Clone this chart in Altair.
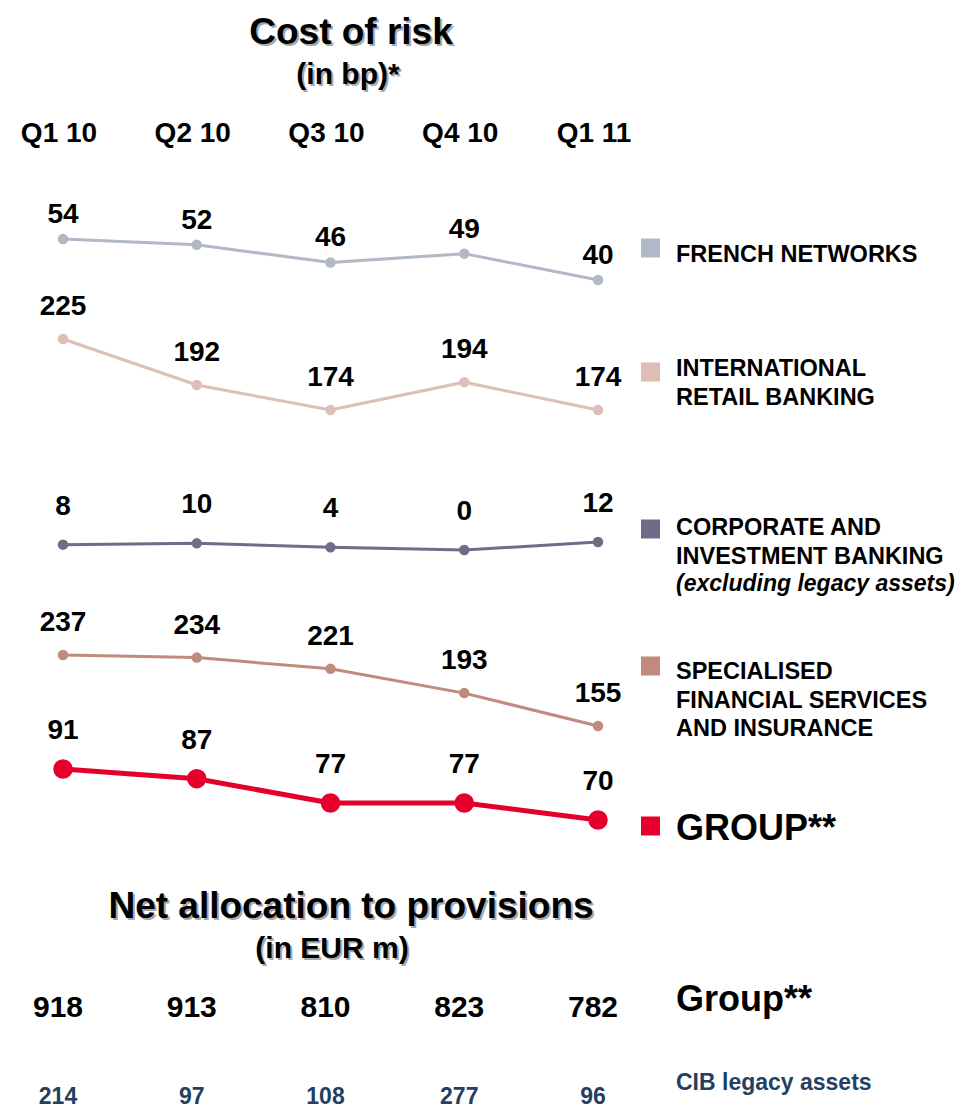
import altair as alt
import pandas as pd

# ---------------- data ----------------
quarters = ["Q1 10", "Q2 10", "Q3 10", "Q4 10", "Q1 11"]
french_networks = [54, 52, 46, 49, 40]
intl_retail = [225, 192, 174, 194, 174]
cib_ex_legacy = [8, 10, 4, 0, 12]
sfs_insurance = [237, 234, 221, 193, 155]
group_cor = [91, 87, 77, 77, 70]
nap_group = [918, 913, 810, 823, 782]
nap_cib_legacy = [214, 97, 108, 277, 96]

legend_labels = [
    "FRENCH NETWORKS",
    "INTERNATIONAL\nRETAIL BANKING",
    "CORPORATE AND\nINVESTMENT BANKING",
    "SPECIALISED\nFINANCIAL SERVICES\nAND INSURANCE",
    "GROUP**",
]

FONT = "Liberation Sans"
NAVY = "#243F5F"
W, H = 953, 1102

xscale = alt.Scale(type="point", domain=quarters, range=[55, 590], padding=0)
xenc = alt.X("quarter:N", scale=xscale, axis=None)


def frame(values):
    return pd.DataFrame({"quarter": quarters, "value": values, "idx": list(range(len(values)))})


def series(values, color, rng, stroke, size, dy):
    df = frame(values)
    y = alt.Y("value:Q", axis=None,
              scale=alt.Scale(domain=[min(values), max(values)], range=rng, zero=False, nice=False))
    base = alt.Chart(df)
    line = base.mark_line(color=color, strokeWidth=stroke).encode(x=xenc, y=y, order=alt.Order("idx:Q"))
    pts = base.mark_circle(color=color, size=size, opacity=1).encode(x=xenc, y=y)
    lbl = base.mark_text(dy=dy, baseline="alphabetic", font=FONT, fontSize=28,
                         fontWeight="bold", color="black").encode(x=xenc, y=y, text="value:Q")
    return alt.layer(line, pts, lbl)


one = pd.DataFrame({"k": [0]})


def label(txt, x, y, size, color="black", align="left", style="normal", shadow=False):
    layers = []
    if shadow:
        layers.append(alt.Chart(one).mark_text(
            text=txt, align=align, baseline="alphabetic", font=FONT, fontSize=size,
            fontWeight="bold", color="#a8a8a8", dx=2, dy=2, lineBreak="\n", lineHeight=28.5
        ).encode(x=alt.value(x), y=alt.value(y)))
    layers.append(alt.Chart(one).mark_text(
        text=txt, align=align, baseline="alphabetic", font=FONT, fontSize=size,
        fontWeight="bold", fontStyle=style, color=color, lineBreak="\n", lineHeight=28.5
    ).encode(x=alt.value(x), y=alt.value(y)))
    return alt.layer(*layers)


def square(color, y):
    return alt.Chart(one).mark_square(color=color, size=361, opacity=1).encode(
        x=alt.value(642.5), y=alt.value(y))


colors = ["#B1B9C6", "#DDBFB7", "#6E6D88", "#C08A7C", "#E4002B"]

layers = [
    series(french_networks, colors[0], [272, 231], 3, 110, -16),
    series(intl_retail, colors[1], [402, 331], 3, 110, -24),
    series(cib_ex_legacy, colors[2], [542, 534], 3, 110, -30),
    series(sfs_insurance, colors[3], [718, 647], 3, 110, -24),
    series(group_cor, colors[4], [812, 761], 5, 380, -30),
]

# quarter header
qdf = pd.DataFrame({"quarter": quarters})
quarter_lbl = alt.Chart(qdf).mark_text(
    baseline="alphabetic", font=FONT, fontSize=28, fontWeight="bold", color="black", dx=-4
).encode(x=xenc, y=alt.value(134), text="quarter:N")

# net allocation to provisions rows
nap1 = alt.Chart(frame(nap_group)).mark_text(
    baseline="alphabetic", font=FONT, fontSize=30, fontWeight="bold", color="black", dx=-5
).encode(x=xenc, y=alt.value(1009), text="value:Q")
nap2 = alt.Chart(frame(nap_cib_legacy)).mark_text(
    baseline="alphabetic", font=FONT, fontSize=23, fontWeight="bold", color=NAVY, dx=-5
).encode(x=xenc, y=alt.value(1096), text="value:Q")

texts = [
    label("Cost of risk", 343, 36, 37, align="center", shadow=True),
    label("(in bp)*", 340, 76, 30, align="center", shadow=True),
    label("Net allocation to provisions", 343, 910, 37, align="center", shadow=True),
    label("(in EUR m)", 324, 950, 30, align="center", shadow=True),
    square(colors[0], 240),
    label(legend_labels[0], 668, 254, 23.5),
    square(colors[1], 364),
    label(legend_labels[1], 668, 368, 23.5),
    square(colors[2], 521),
    label(legend_labels[2], 668, 527, 23.5),
    label("(excluding legacy assets)", 668, 583, 23, style="italic"),
    square(colors[3], 658),
    label(legend_labels[3], 668, 671, 23.5),
    square(colors[4], 818),
    label(legend_labels[4], 668, 832, 36),
    label("Group**", 668, 1003, 36),
    label("CIB legacy assets", 668, 1082, 23, color=NAVY),
]

chart = alt.layer(*layers, quarter_lbl, nap1, nap2, *texts).resolve_scale(
    y="independent"
).properties(
    width=W, height=H, padding=0, autosize=alt.AutoSizeParams(type="none"), background="white"
).configure_view(stroke=None)

chart.save("out.html", embed_options={"renderer": "svg", "actions": False})
